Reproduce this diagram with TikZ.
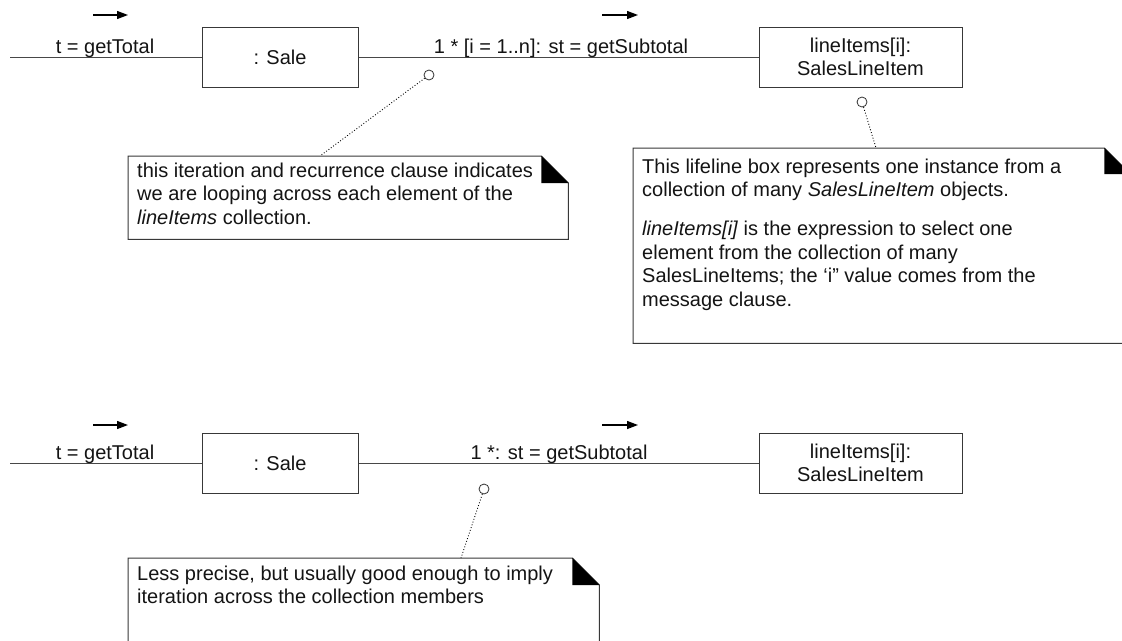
\documentclass[tikz,border=0pt]{standalone}
\usepackage{fontspec}
\setmainfont{Liberation Sans}
\usetikzlibrary{arrows.meta}

% UML note outline with a filled, folded top-right corner
\newcommand\dogear[2][27pt]{%
  \draw[draw=black!78, line width=1pt] (#2.north west) -- ([xshift=-#1]#2.north east)
    -- ([yshift=-#1]#2.north east) -- (#2.south east) -- (#2.south west) -- cycle;
  \fill[black] ([xshift=-#1]#2.north east) -- ([xshift=-#1,yshift=-#1]#2.north east)
    -- ([yshift=-#1]#2.north east) -- cycle;}

\begin{document}
\begin{tikzpicture}[x=1pt,y=-1pt,
  every node/.style={font=\fontsize{20}{23.5}\selectfont, text=black!92},
  obj/.style={draw=black!78, line width=1pt, minimum width=156pt, minimum height=60pt,
              inner sep=0pt, align=center},
  lbl/.style={inner sep=0pt, anchor=base},
  link/.style={draw=black!72, line width=1pt},
  msgarrow/.style={line width=1.3pt, -{Triangle[length=11pt,width=8pt]}},
  attach/.style={circle, draw=black!80, fill=white, line width=0.8pt, minimum size=10pt, inner sep=0pt},
  notelink/.style={dotted, line width=0.9pt},
  noteframe/.style={inner sep=0pt, anchor=north west},
  notetext/.style={inner sep=0pt, anchor=north west, align=left, execute at begin node=\strut},
]
\useasboundingbox (0,0) rectangle (1122,640);
\fill[white] (0,0) rectangle (1122,640);
\clip (0,0) rectangle (1122,640);

% ---------- upper diagram: full iteration clause ----------
\coordinate (in1) at (10,57);
\node[obj] (sale1) at (280,57) {: Sale};
\node[obj, minimum width=203pt] (li1) at (860.5,57) {lineItems[i]:\\SalesLineItem};
\draw[link] (in1) -- (sale1.west);
\draw[link] (sale1.east) -- (li1.west);

\node[lbl] (m1) at (105,53) {t = getTotal};
\node[lbl] (m2) at (561,53) {1 * [i = 1..n]: st = getSubtotal};
\coordinate (a1s) at (93,15);  \coordinate (a1e) at (128,15);
\coordinate (a2s) at (602,15); \coordinate (a2e) at (638,15);
\draw[msgarrow] (a1s) -- (a1e);
\draw[msgarrow] (a2s) -- (a2e);

\node[attach] (c1) at (429,75) {};
\node[attach] (c2) at (862,102) {};

\node[noteframe, minimum width=440pt, minimum height=83pt] (n1) at (128,156) {};
\dogear{n1}
\node[notetext] (n1t) at (137,162.5) {this iteration and recurrence clause indicates\\
we are looping across each element of the\\
\textit{lineItems} collection.};
\coordinate (n1top) at (320,156);
\draw[notelink] (c1) -- (n1top);

\node[noteframe, minimum width=497pt, minimum height=195pt] (n2) at (633,148) {};
\dogear[26pt]{n2}
\node[notetext] (n2t) at (642,158.5) {This lifeline box represents one instance from a\\
collection of many \textit{SalesLineItem} objects.\\[15.5pt]
\textit{lineItems[i]} is the expression to select one\\
element from the collection of many\\
SalesLineItems; the ‘i” value comes from the\\
message clause.};
\coordinate (n2top) at (876,148);
\draw[notelink] (c2) -- (n2top);

% ---------- lower diagram: plain iteration marker ----------
\coordinate (in2) at (10,463);
\node[obj] (sale2) at (280,463) {: Sale};
\node[obj, minimum width=203pt] (li2) at (860.5,463) {lineItems[i]:\\SalesLineItem};
\draw[link] (in2) -- (sale2.west);
\draw[link] (sale2.east) -- (li2.west);

\node[lbl] (m3) at (105,459) {t = getTotal};
\node[lbl] (m4) at (559,459) {1 *: st = getSubtotal};
\coordinate (a3s) at (93,425);  \coordinate (a3e) at (128,425);
\coordinate (a4s) at (602,425); \coordinate (a4e) at (638,425);
\draw[msgarrow] (a3s) -- (a3e);
\draw[msgarrow] (a4s) -- (a4e);

\node[attach] (c3) at (484,489) {};
\node[noteframe, minimum width=471pt, minimum height=100pt] (n3) at (128,558) {};
\dogear{n3}
\node[notetext] (n3t) at (137,565.5) {Less precise, but usually good enough to imply\\
iteration across the collection members};
\coordinate (n3top) at (461,558);
\draw[notelink] (c3) -- (n3top);
\end{tikzpicture}
\end{document}
